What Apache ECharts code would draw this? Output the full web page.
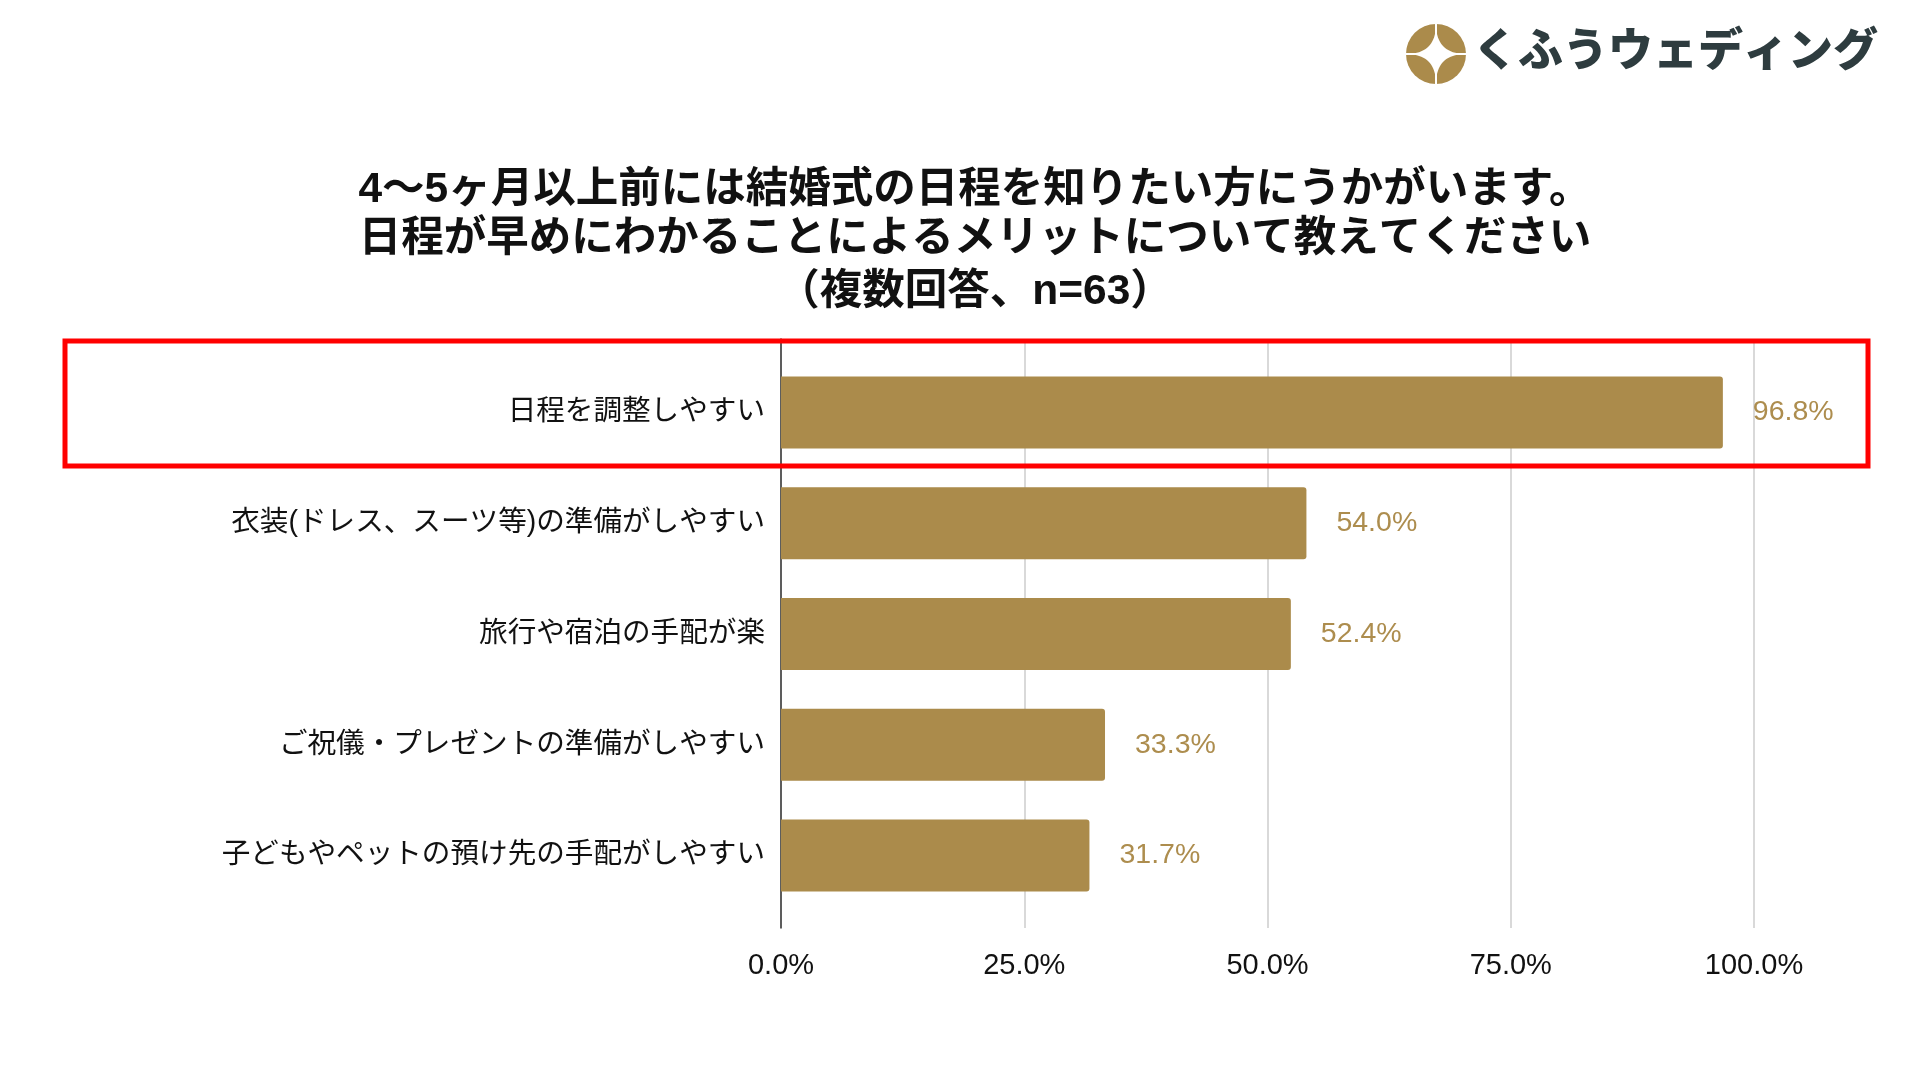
<!DOCTYPE html>
<html lang="ja">
<head>
    <meta charset="UTF-8">
    <title>ECharts</title>
    <script type="text/javascript" src="https://cdn.jsdelivr.net/npm/echarts@6/dist/echarts.min.js"></script>
    <style>
        html, body { margin: 0; padding: 0; background: #fff; }
        #main { width: 1910px; height: 1070px; }
    </style>
</head>
<body>
    <div id="main"></div>
    <script type="text/javascript">
        // データ
        var categories = [
            '日程を調整しやすい',
            '衣装(ドレス、スーツ等)の準備がしやすい',
            '旅行や宿泊の手配が楽',
            'ご祝儀・プレゼントの準備がしやすい',
            '子どもやペットの預け先の手配がしやすい'
        ];
        var values = [96.8, 54.0, 52.4, 33.3, 31.7];
        var titleLines = [
            '4〜5ヶ月以上前には結婚式の日程を知りたい方にうかがいます。',
            '日程が早めにわかることによるメリットについて教えてください',
            '（複数回答、n=63）'
        ];
        var logoText = 'くふうウェディング';

        var FONT = "'Liberation Sans', 'Noto Sans CJK JP', sans-serif";
        var GOLD = '#ab8b4b';

        var chart = echarts.init(document.getElementById('main'));

        // ロゴの星形（四隅の点を二次曲線で結ぶ）
        var r = 30;
        var tips = [[0, -r], [r, 0], [0, r], [-r, 0]];
        var starPts = [];
        for (var i = 0; i < 4; i++) {
            var a = tips[i], b = tips[(i + 1) % 4];
            for (var t = 0; t < 1; t += 0.05) {
                // 制御点は中心 (0,0)
                starPts.push([(1 - t) * (1 - t) * a[0] + t * t * b[0], (1 - t) * (1 - t) * a[1] + t * t * b[1]]);
            }
        }

        chart.setOption({
            backgroundColor: '#ffffff',
            animation: false,
            textStyle: { fontFamily: FONT },
            graphic: [
                {
                    type: 'group',
                    x: 1436, y: 54,
                    children: [
                        { type: 'circle', shape: { cx: 0, cy: 0, r: r }, style: { fill: GOLD } },
                        { type: 'polygon', shape: { points: starPts }, style: { fill: '#fff' } },
                        { type: 'line', shape: { x1: 0, y1: -r, x2: 0, y2: r }, style: { stroke: '#fff', lineWidth: 2 } },
                        { type: 'line', shape: { x1: -r, y1: 0, x2: r, y2: 0 }, style: { stroke: '#fff', lineWidth: 2 } }
                    ]
                },
                {
                    type: 'text', x: 1473, y: 54,
                    style: { text: logoText, font: '900 45px ' + FONT, fill: '#2e3c3f', align: 'left', verticalAlign: 'middle' }
                },
                {
                    type: 'text', x: 975, y: 190,
                    style: { text: titleLines[0], font: 'bold 42.5px ' + FONT, fill: '#111', align: 'center', verticalAlign: 'middle' }
                },
                {
                    type: 'text', x: 975, y: 239,
                    style: { text: titleLines[1], font: 'bold 42.5px ' + FONT, fill: '#111', align: 'center', verticalAlign: 'middle' }
                },
                {
                    type: 'text', x: 975, y: 292,
                    style: { text: titleLines[2], font: 'bold 42.5px ' + FONT, fill: '#111', align: 'center', verticalAlign: 'middle' }
                },
                // 赤枠
                {
                    type: 'rect', z: 100,
                    shape: { x: 65, y: 341, width: 1803, height: 125 },
                    style: { fill: 'none', stroke: '#ff0000', lineWidth: 5 }
                }
            ],
            grid: [
                { left: 781, right: 156, top: 357, height: 554 },
                { left: 781, right: 156, top: 339, height: 589 }
            ],
            xAxis: [
                {
                    gridIndex: 0, type: 'value', min: 0, max: 100,
                    show: false
                },
                {
                    gridIndex: 1, type: 'value', min: 0, max: 100, interval: 25,
                    axisLine: { show: false },
                    axisTick: { show: false },
                    splitLine: { show: true, lineStyle: { color: '#cccccc', width: 1.5 } },
                    axisLabel: {
                        margin: 23, fontSize: 29, color: '#111', fontFamily: FONT,
                        formatter: function (v) { return v.toFixed(1) + '%'; }
                    }
                }
            ],
            yAxis: [
                {
                    gridIndex: 0, type: 'category', inverse: true, data: categories,
                    axisLine: { show: false },
                    axisTick: { show: false },
                    axisLabel: { margin: 16, fontSize: 28.6, color: '#111', fontFamily: FONT }
                },
                {
                    gridIndex: 1, type: 'value', min: 0, max: 1,
                    axisLine: { show: true, lineStyle: { color: '#333', width: 1.5 } },
                    axisTick: { show: false },
                    axisLabel: { show: false },
                    splitLine: { show: false }
                }
            ],
            series: [
                {
                    type: 'bar',
                    xAxisIndex: 0, yAxisIndex: 0,
                    data: values,
                    barWidth: 72,
                    z: 3,
                    itemStyle: { color: GOLD, borderRadius: [0, 3, 3, 0] },
                    label: {
                        show: true, position: 'right', distance: 30,
                        fontSize: 28.5, color: '#ad8d4e', fontFamily: FONT,
                        formatter: function (p) { return p.value.toFixed(1) + '%'; }
                    }
                }
            ]
        });
    </script>
</body>
</html>
